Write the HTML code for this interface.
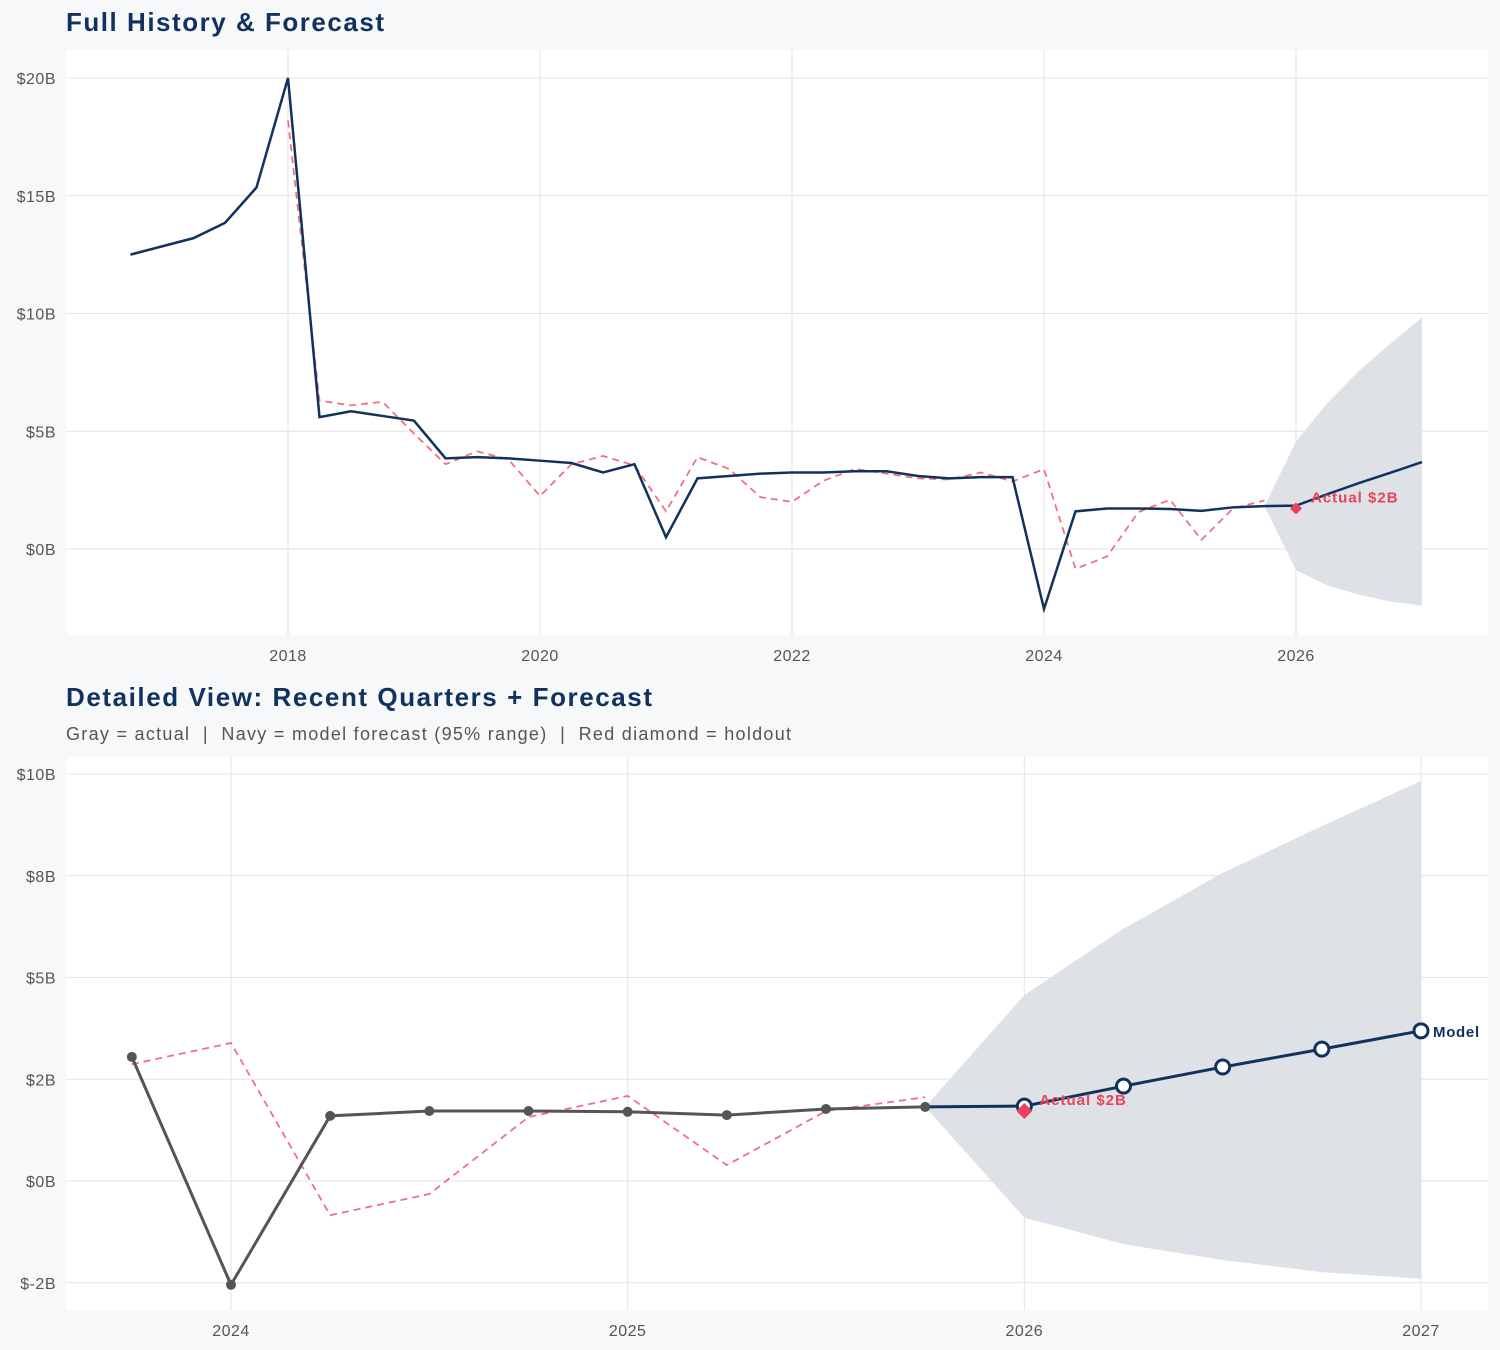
<!DOCTYPE html>
<html><head><meta charset="utf-8"><style>
body{margin:0;background:#f7f8fa;font-family:"Liberation Sans",sans-serif;}
svg{display:block}
</style></head><body>
<svg id="c" width="1500" height="1350">
<rect width="1500" height="1350" fill="#f7f8fa"/>
<text x="66" y="31" font-size="26" font-weight="bold" fill="#12325e" textLength="318" lengthAdjust="spacing">Full History &amp; Forecast</text>
<text x="66" y="706" font-size="26" font-weight="bold" fill="#12325e" textLength="586" lengthAdjust="spacing">Detailed View: Recent Quarters + Forecast</text>
<text x="66" y="740" font-size="18" fill="#555" textLength="725" lengthAdjust="spacing" xml:space="preserve">Gray = actual  |  Navy = model forecast (95% range)  |  Red diamond = holdout</text>
</svg>
<script>
const histX=[2016.75,2017.25,2017.5,2017.75,2018,2018.25,2018.5,2018.75,2019,2019.25,2019.5,2019.75,2020,2020.25,2020.5,2020.75,2021,2021.25,2021.5,2021.75,2022,2022.25,2022.5,2022.75,2023,2023.25,2023.5,2023.75,2024,2024.25,2024.5,2024.75,2025,2025.25,2025.5,2025.75];
const histY=[12.5,13.2,13.85,15.35,20.0,5.6,5.85,5.65,5.45,3.85,3.9,3.85,3.75,3.65,3.25,3.6,0.5,3.0,3.1,3.2,3.25,3.25,3.3,3.3,3.1,3.0,3.05,3.05,-2.55,1.6,1.72,1.72,1.7,1.62,1.77,1.82];
const fitX=[2018,2018.25,2018.5,2018.75,2019,2019.25,2019.5,2019.75,2020,2020.25,2020.5,2020.75,2021,2021.25,2021.5,2021.75,2022,2022.25,2022.5,2022.75,2023,2023.25,2023.5,2023.75,2024,2024.25,2024.5,2024.75,2025,2025.25,2025.5,2025.75];
const fitY=[18.2,6.3,6.1,6.25,4.9,3.6,4.15,3.8,2.25,3.6,3.95,3.55,1.6,3.9,3.4,2.2,2.0,2.9,3.4,3.2,3.0,2.95,3.25,2.87,3.39,-0.84,-0.32,1.57,2.09,0.39,1.72,2.06];
const fcX=[2025.75,2026,2026.25,2026.5,2026.75,2027];
const fcY=[1.82,1.84,2.33,2.8,3.24,3.69];
const fcUpper=[1.82,4.57,6.2,7.57,8.72,9.83];
const fcLower=[1.82,-0.9,-1.55,-1.94,-2.24,-2.4];
const holdoutX=2026, holdoutY=1.72;
const topYTicks=[0,5,10,15,20];
const topYLabels=["$0B","$5B","$10B","$15B","$20B"];
const topXTicks=[2018,2020,2022,2024,2026];
const botYTicks=[-2.5,0,2.5,5,7.5,10];
const botYLabels=["$-2B","$0B","$2B","$5B","$8B","$10B"];
const botXTicks=[2024,2025,2026,2027];

const NS="http://www.w3.org/2000/svg";
const svg=document.getElementById('c');
function el(tag,attrs,parent){const e=document.createElementNS(NS,tag);for(const k in attrs)e.setAttribute(k,attrs[k]);(parent||svg).appendChild(e);return e;}
const NAVY="#12325e",RED="#e8435a",BAND="#dce0e6",GRAY="#555";

function panel(cfg){
  const g=el('g',{});
  
  
  const sx=v=>cfg.x0+(v-cfg.xa)/(cfg.xb-cfg.xa)*(cfg.x1-cfg.x0);
  const sy=v=>cfg.y0+(v-cfg.ya)/(cfg.yb-cfg.ya)*(cfg.y1-cfg.y0);
  const bg=el('rect',{x:cfg.L,y:cfg.T,width:cfg.R-cfg.L,height:cfg.B-cfg.T,fill:'#fff'},g);
  
  cfg.yTicks.forEach((t,i)=>{
    const l=el('line',{x1:cfg.L,x2:cfg.R,y1:sy(t),y2:sy(t),stroke:'#e3e3e3','stroke-width':1},g);
    
    const tx=el('text',{x:cfg.L-10,y:sy(t)+6,'text-anchor':'end','font-size':16,'letter-spacing':0.5,fill:'#555'},g);
    tx.textContent=cfg.yLabels[i];
    
  });
  cfg.xTicks.forEach(t=>{
    const l=el('line',{x1:sx(t),x2:sx(t),y1:cfg.T,y2:cfg.B,stroke:'#e3e3e3','stroke-width':1},g);
    
    const tx=el('text',{x:sx(t),y:cfg.B+26,'text-anchor':'middle','font-size':16,'letter-spacing':0.5,fill:'#555'},g);
    tx.textContent=t;
    
  });
  const pts=(xs,ys)=>xs.map((x,i)=>sx(x)+','+sy(ys[i])).join(' ');
  const bandPts=fcX.map((x,i)=>sx(x)+','+sy(fcUpper[i])).concat(fcX.slice().reverse().map((x,i)=>sx(x)+','+sy(fcLower[fcX.length-1-i]))).join(' ');
  const band=el('polygon',{points:bandPts,fill:BAND,opacity:0.95},g);
  
  const fx=[],fy=[];fitX.forEach((x,i)=>{if(x>=cfg.xmin){fx.push(x);fy.push(fitY[i]);}});
  const hx=[],hy=[];histX.forEach((x,i)=>{if(x>=cfg.xmin){hx.push(x);hy.push(histY[i]);}});
  const fit=el('polyline',{points:pts(fx,fy),fill:'none',stroke:RED,'stroke-width':1.8,'stroke-dasharray':'7,5',opacity:0.75},g);
  
  const act=el('polyline',{points:pts(hx,hy),fill:'none',stroke:cfg.actColor,'stroke-width':cfg.lw},g);
  
  const fc=el('polyline',{points:pts(fcX,fcY),fill:'none',stroke:NAVY,'stroke-width':cfg.lw},g);
  
  if(cfg.markers){
    hx.forEach((x,i)=>{const c=el('circle',{cx:sx(x),cy:sy(hy[i]),r:5,fill:GRAY},g);
      });
    fcX.slice(1).forEach((x,i)=>{const c=el('circle',{cx:sx(x),cy:sy(fcY[i+1]),r:7,fill:'#fff',stroke:NAVY,'stroke-width':3},g);
      });
    const m=el('text',{x:sx(2027)+12,y:sy(fcY[fcY.length-1])+6,'font-size':15,'letter-spacing':0.7,'font-weight':'bold',fill:NAVY},g);
    m.textContent='Model';
  }
  const s=cfg.dsize,hxp=sx(holdoutX),hyp=sy(holdoutY);
  const d=el('polygon',{points:`${hxp},${hyp-s} ${hxp+s},${hyp} ${hxp},${hyp+s} ${hxp-s},${hyp}`,fill:RED},g);
  
  const at=el('text',{x:hxp+15,y:hyp-6,'font-size':15,'letter-spacing':1,'font-weight':'bold',fill:RED},g);
  at.textContent='Actual $2B';
}
panel({name:'full-history-chart',L:66,R:1488,T:50,B:635,xa:2018,xb:2026,x0:288,x1:1296,ya:0,yb:20,y0:549,y1:78,
  yTicks:topYTicks,yLabels:topYLabels,xTicks:topXTicks,xmin:2000,actColor:NAVY,lw:2.5,markers:false,dsize:6});
panel({name:'detailed-view-chart',L:66,R:1488,T:757,B:1310,xa:2024,xb:2027,x0:231,x1:1421,ya:0,yb:10,y0:1181,y1:774,
  yTicks:botYTicks,yLabels:botYLabels,xTicks:botXTicks,xmin:2023.7,actColor:GRAY,lw:3,markers:true,dsize:8});
</script>
</body></html>
